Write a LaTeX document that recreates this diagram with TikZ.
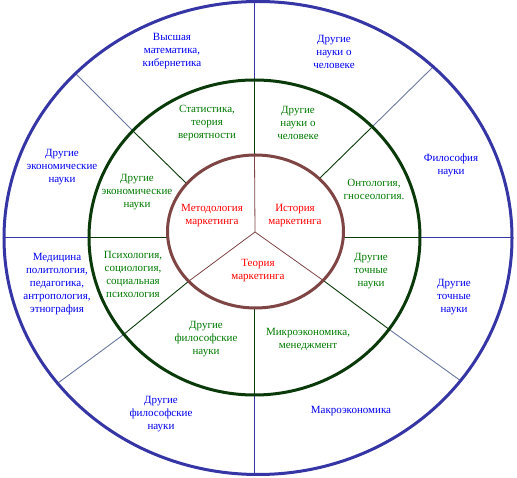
\documentclass[tikz,border=0pt]{standalone}
\usepackage{fontspec}
\setmainfont{Liberation Serif}
\begin{document}
\begin{tikzpicture}[x=1pt,y=-1pt,
  lbl/.style={inner sep=0pt, align=center, font=\fontsize{11}{13}\selectfont},
  outertxt/.style={lbl, text=bluetxt},
  midtxt/.style={lbl, text=greentxt},
  intxt/.style={lbl, text=red},
  ringout/.style={draw=outerc, line width=3pt},
  ringmid/.style={draw=midc, line width=3pt},
  ringin/.style={draw=innc, line width=3pt},
  lnout/.style={draw=outerc, line width=0.9pt},
  lndiag/.style={draw=diagc, line width=0.9pt},
  lnmid/.style={draw=midc, line width=0.9pt},
  lnin/.style={draw=innc, line width=0.8pt}]
\definecolor{outerc}{HTML}{3535A5}
\definecolor{diagc}{HTML}{6A78A0}
\definecolor{midc}{HTML}{0A3A0A}
\definecolor{innc}{HTML}{7F4545}
\definecolor{bluetxt}{HTML}{0000F0}
\definecolor{greentxt}{HTML}{007A00}
\useasboundingbox (0,0) rectangle (517,478);
\fill[white] (0,0) rectangle (517,478);
% key points
\coordinate (c) at (255,232);
% vertical top
\coordinate (vt0) at (254.5,2);
\coordinate (vt1) at (254.5,80);
\coordinate (vt2) at (254.5,155);
% vertical bottom
\coordinate (vb2) at (254.5,308);
\coordinate (vb1) at (254.5,395);
\coordinate (vb0) at (254.5,475);
% horizontal left / right
\coordinate (hl0) at (4,237);
\coordinate (hl1) at (89,237);
\coordinate (hl2) at (168,237);
\coordinate (hr2) at (343,237);
\coordinate (hr1) at (420,237);
\coordinate (hr0) at (512,237);
% diagonals
\coordinate (ul0) at (76,74);
\coordinate (ul1) at (133,131);
\coordinate (ul2) at (187,184);
\coordinate (ur0) at (433,67);
\coordinate (ur1) at (372,127);
\coordinate (ur2) at (320,178);
\coordinate (ll0) at (58,383);
\coordinate (ll1) at (123,335);
\coordinate (ll2) at (189,281);
\coordinate (lr0) at (461,381);
\coordinate (lr1) at (390,330);
\coordinate (lr2) at (324,281);
% lines
\draw[lnout] (vt0) -- (vt1);
\draw[lnmid] (vt1) -- (vt2);
\draw[lnin] (vt2) -- (c);
\draw[lnout] (vb0) -- (vb1);
\draw[lnmid] (vb1) -- (vb2);
\draw[lnout] (hl0) -- (hl1);
\draw[lnmid] (hl1) -- (hl2);
\draw[lnout] (hr0) -- (hr1);
\draw[lnmid] (hr1) -- (hr2);
\draw[lndiag] (ul0) -- (ul1);
\draw[lnmid] (ul1) -- (ul2);
\draw[lndiag] (ur0) -- (ur1);
\draw[lnmid] (ur1) -- (ur2);
\draw[lndiag] (ll0) -- (ll1);
\draw[lnmid] (ll1) -- (ll2);
\draw[lnin] (ll2) -- (c);
\draw[lndiag] (lr0) -- (lr1);
\draw[lnmid] (lr1) -- (lr2);
\draw[lnin] (lr2) -- (c);
% rings
\draw[ringout] (258,238) ellipse [x radius=254, y radius=236.5];
\draw[ringmid] (254.5,237.5) ellipse [x radius=165.5, y radius=157.5];
\draw[ringin] (255.5,231.5) ellipse [x radius=88, y radius=76.5];
% outer ring texts
\node[outertxt] (o1) at (172,51) {Высшая\\математика,\\кибернетика};
\node[outertxt] (o2) at (334,52) {Другие\\науки о\\человеке};
\node[outertxt] (o3) at (451,165) {Философия\\науки};
\node[outertxt] (o4) at (62,167) {Другие\\экономические\\науки};
\node[outertxt] (o5) at (57,284) {Медицина\\политология,\\педагогика,\\антропология,\\этнография};
\node[outertxt] (o6) at (161,414) {Другие\\философские\\науки};
\node[outertxt] (o7) at (351,411) {Макроэкономика};
\node[outertxt] (o8) at (454,297) {Другие\\точные\\науки};
% middle ring texts
\node[midtxt] (m1) at (207,123) {Статистика,\\теория\\вероятности};
\node[midtxt] (m2) at (298,123) {Другие\\науки о\\человеке};
\node[midtxt] (m3) at (374,189) {Онтология,\\гносеология.};
\node[midtxt] (m4) at (137,192) {Другие\\экономические\\науки};
\node[midtxt] (m5) at (133,274) {Психология,\\социология,\\социальная\\психология};
\node[midtxt] (m6) at (206,339) {Другие\\философские\\науки};
\node[midtxt] (m7) at (308,339) {Микроэкономика,\\менеджмент};
\node[midtxt] (m8) at (371,271) {Другие\\точные\\науки};
% inner texts
\node[intxt] (i1) at (212,216) {Методология\\маркетинга};
\node[intxt] (i2) at (295,216) {История\\маркетинга};
\node[intxt] (i3) at (258,271) {Теория\\маркетинга};
\end{tikzpicture}
\end{document}
